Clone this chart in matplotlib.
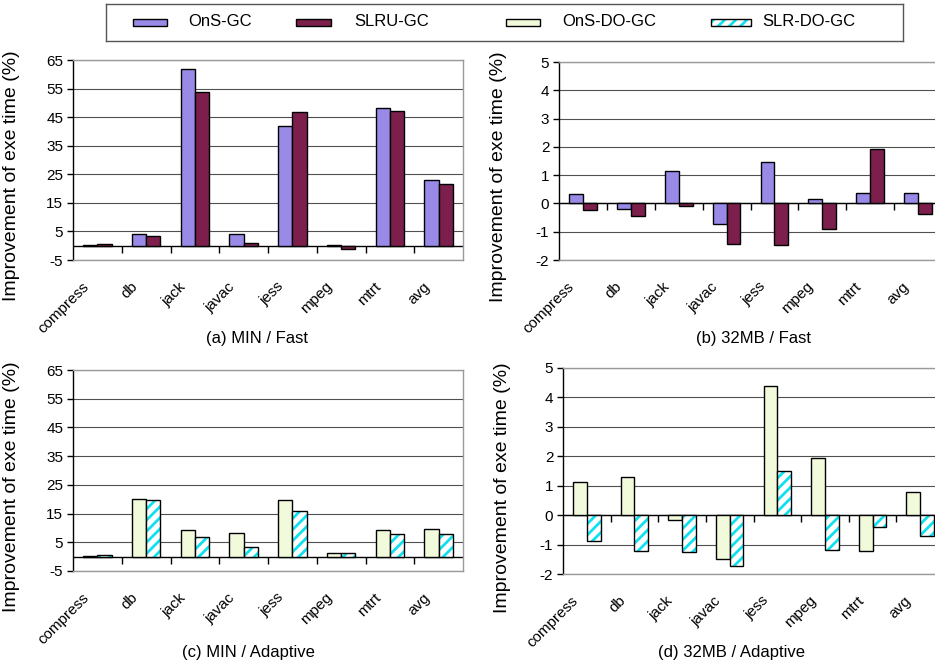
import numpy as np
import matplotlib
matplotlib.use('Agg')
import matplotlib.pyplot as plt
from matplotlib.patches import Rectangle
from matplotlib.transforms import ScaledTranslation

plt.rcParams['font.family'] = ['Liberation Sans', 'DejaVu Sans']
plt.rcParams['hatch.linewidth'] = 2.0
plt.rcParams['axes.unicode_minus'] = False

benchmarks = ['compress', 'db', 'jack', 'javac', 'jess', 'mpeg', 'mtrt', 'avg']

# (a) MIN heap / Fast
min_fast_ons = [0.35, 4.0, 62.0, 4.2, 41.8, 0.35, 48.2, 22.9]
min_fast_slru = [0.6, 3.3, 53.8, 0.8, 46.9, -1.3, 47.3, 21.6]
# (b) 32MB heap / Fast
mb32_fast_ons = [0.35, -0.21, 1.16, -0.71, 1.48, 0.15, 0.38, 0.38]
mb32_fast_slru = [-0.24, -0.45, -0.08, -1.45, -1.48, -0.89, 1.92, -0.38]
# (c) MIN heap / Adaptive
min_adapt_ons_do = [0.2, 20.2, 9.3, 8.3, 19.7, 1.2, 9.2, 9.8]
min_adapt_slr_do = [0.5, 19.6, 6.9, 3.4, 15.9, 1.3, 7.8, 8.0]
# (d) 32MB heap / Adaptive
mb32_adapt_ons_do = [1.13, 1.28, -0.17, -1.5, 4.38, 1.94, -1.21, 0.79]
mb32_adapt_slr_do = [-0.89, -1.23, -1.26, -1.74, 1.49, -1.18, -0.4, -0.7]

series_names = ['OnS-GC', 'SLRU-GC', 'OnS-DO-GC', 'SLR-DO-GC']
min_ticks = np.arange(-5, 66, 10)
mb32_ticks = np.arange(-2, 6, 1)

STYLES = {
    'OnS-GC': dict(face='#9a8ae8', hatch=None),
    'SLRU-GC': dict(face='#7c1f4c', hatch=None),
    'OnS-DO-GC': dict(face='#f2fadc', hatch=None),
    'SLR-DO-GC': dict(face='white', hatch='///'),
}
HATCH_CYAN = '#10e0f0'
BORDER = '#9a9a9a'
BAR_W = 0.29


def draw_bars(ax, x, vals, name):
    st = STYLES[name]
    if st['hatch']:
        ax.bar(x, vals, BAR_W, color=st['face'], edgecolor=HATCH_CYAN,
               hatch=st['hatch'], linewidth=0, zorder=3)
        ax.bar(x, vals, BAR_W, fill=False, edgecolor='black', linewidth=1,
               zorder=4)
    else:
        ax.bar(x, vals, BAR_W, color=st['face'], edgecolor='black',
               linewidth=1, zorder=3)


def draw_panel(ax, first, second, names, ticks):
    x = np.arange(len(benchmarks))
    draw_bars(ax, x - BAR_W / 2, first, names[0])
    draw_bars(ax, x + BAR_W / 2, second, names[1])

    ax.set_xlim(-0.5, len(benchmarks) - 0.5)
    ax.set_ylim(ticks[0], ticks[-1])
    ax.set_yticks(ticks)
    ax.yaxis.grid(True, color='#505050', linewidth=0.8)
    ax.set_axisbelow(True)

    # zero line with category separators hanging below it
    ax.axhline(0, color='black', linewidth=1, zorder=2.5)
    ax.plot(x[1:] - 0.5, np.zeros(len(x) - 1), ls='none', marker=3,
            ms=5, mew=1, color='black', zorder=2.5)

    for side in ('top', 'right', 'bottom'):
        ax.spines[side].set_color(BORDER)
        ax.spines[side].set_linewidth(1)
    ax.spines['left'].set_color('black')
    ax.spines['left'].set_linewidth(1)

    ax.tick_params(axis='y', direction='out', length=4, width=1,
                   labelsize=11, pad=3)
    ax.tick_params(axis='x', length=0, labelsize=11, pad=14)
    ax.set_xticks(x)
    ax.set_xticklabels(benchmarks, rotation=45, ha='right', va='top')
    shift = ScaledTranslation(-6 / 100, 0, ax.figure.dpi_scale_trans)
    for lab in ax.get_xticklabels():
        lab.set_transform(lab.get_transform() + shift)

    ax.set_ylabel('Improvement of exe time (%)', fontsize=14)
    ax.yaxis.set_label_coords(-0.136, 0.42)


fig = plt.figure(figsize=(9.35, 6.64), dpi=100)
W, H = 935.0, 664.0


def px_axes(left, top, right, bottom):
    return fig.add_axes([left / W, 1 - bottom / H, (right - left) / W,
                         (bottom - top) / H])


ax_a = px_axes(73, 60, 463, 260)
ax_b = px_axes(559, 62, 942, 260)
ax_c = px_axes(73, 370, 463, 571)
ax_d = px_axes(563, 368, 944, 574)

draw_panel(ax_a, min_fast_ons, min_fast_slru, series_names[:2], min_ticks)
draw_panel(ax_b, mb32_fast_ons, mb32_fast_slru, series_names[:2], mb32_ticks)
draw_panel(ax_c, min_adapt_ons_do, min_adapt_slr_do, series_names[2:], min_ticks)
draw_panel(ax_d, mb32_adapt_ons_do, mb32_adapt_slr_do, series_names[2:], mb32_ticks)

fig.text(257 / W, 1 - 338 / H, '(a) MIN / Fast', ha='center', va='center', fontsize=12)
fig.text(754 / W, 1 - 338 / H, '(b) 32MB / Fast', ha='center', va='center', fontsize=12)
fig.text(248 / W, 1 - 652 / H, '(c) MIN / Adaptive', ha='center', va='center', fontsize=12)
fig.text(731 / W, 1 - 652 / H, '(d) 32MB / Adaptive', ha='center', va='center', fontsize=12)

# legend box across the top
leg = px_axes(106, 4, 903, 41)
leg.set_xlim(0, 1)
leg.set_ylim(0, 1)
leg.set_xticks([])
leg.set_yticks([])
for sp in leg.spines.values():
    sp.set_color('#555555')
    sp.set_linewidth(1)
patch_x = [0.034, 0.239, 0.502, 0.759]
text_x = [0.103, 0.311, 0.573, 0.823]
for name, px, tx in zip(series_names, patch_x, text_x):
    st = STYLES[name]
    if st['hatch']:
        leg.add_patch(Rectangle((px, 0.4), 0.05, 0.2, facecolor='white',
                                edgecolor=HATCH_CYAN, hatch=st['hatch'], linewidth=0))
        leg.add_patch(Rectangle((px, 0.4), 0.05, 0.2, fill=False,
                                edgecolor='black', linewidth=1))
    else:
        leg.add_patch(Rectangle((px, 0.4), 0.043, 0.2, facecolor=st['face'],
                                edgecolor='black', linewidth=1))
    leg.text(tx, 0.52, name, ha='left', va='center', fontsize=12)

fig.savefig('out.png', dpi=100)
